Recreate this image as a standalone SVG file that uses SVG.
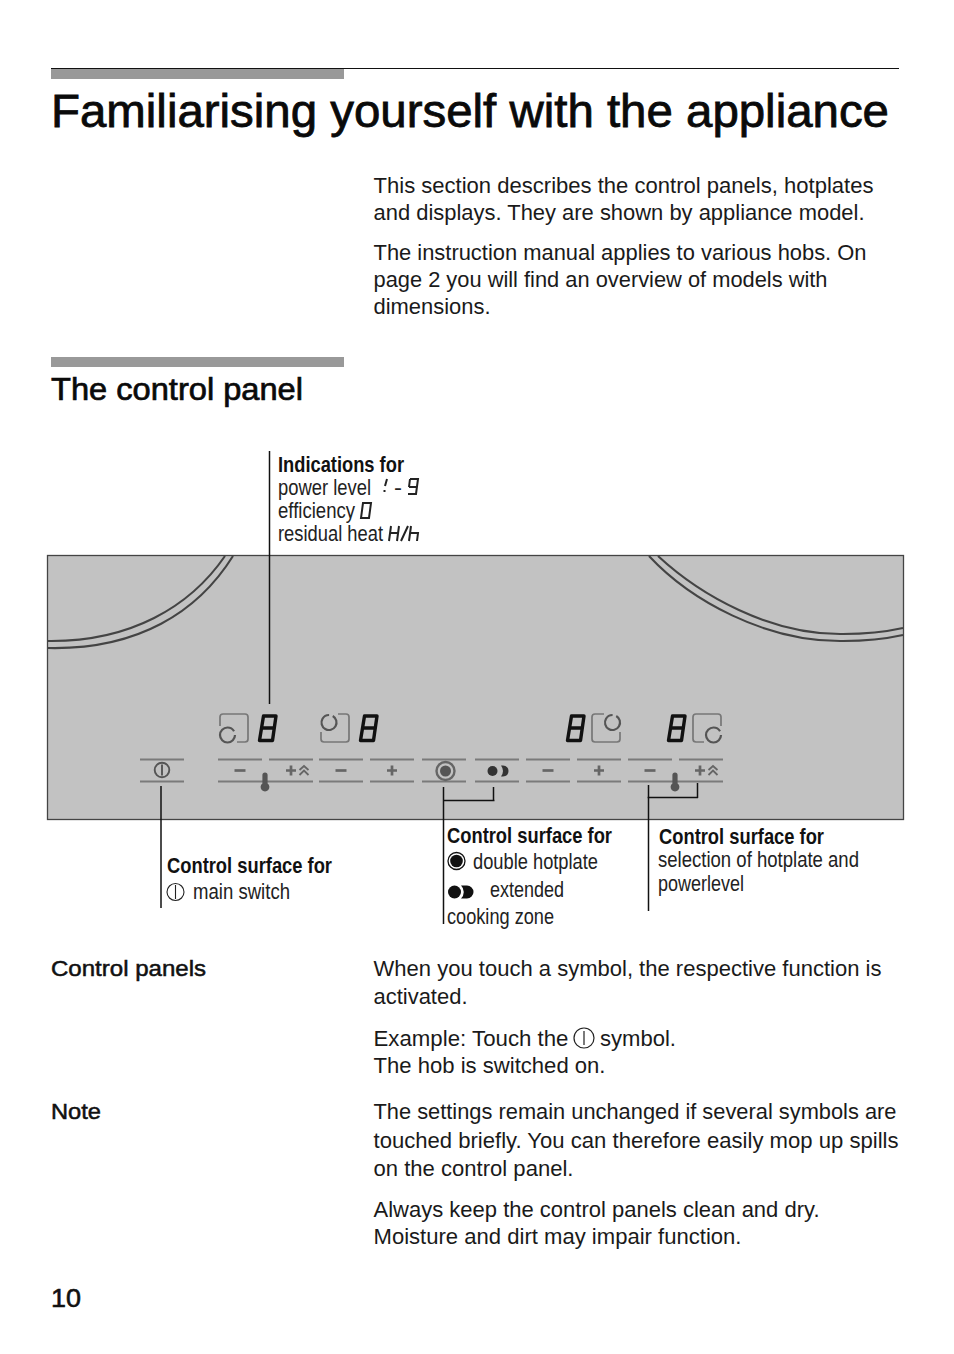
<svg xmlns="http://www.w3.org/2000/svg" width="954" height="1354" viewBox="0 0 954 1354">
<style>
text{font-family:"Liberation Sans",Arial,sans-serif;fill:#1a1a1a}
.b{font-size:22.6px}
.h3{font-size:21.6px;fill:#111;stroke:#111;stroke-width:.5}
.c{font-size:21.5px;fill:#222}
.cb{font-size:21.5px;font-weight:bold;fill:#111}
.ring{fill:none;stroke:#444;stroke-width:2.1}
.seg{fill:none;stroke:#7a7a7a;stroke-width:2}
.sym{fill:none;stroke:#555;stroke-width:1.9}
.dig{fill:none;stroke:#111;stroke-width:3.4;stroke-linejoin:round}
.icon{fill:none;stroke:#777;stroke-width:1.7}
.iconk{fill:none;stroke:#555;stroke-width:2.2;stroke-dasharray:43 4}
.lead{fill:none;stroke:#111;stroke-width:1.5}
.pm{fill:none;stroke:#666;stroke-width:2.7}
.thin{fill:none;stroke:#222;stroke-width:1.1}
.seven{fill:none;stroke:#222;stroke-width:2}
</style>
<defs>
<g id="digit"><path class="dig" d="M5.500 1.500H18L14.500 26H1.500Z M3.500 13.500H16"/></g>
<g id="thermo"><path d="M-2.600 -9A2.600 2.600 0 0 1 2.600 -9V-0.500A4.400 4.400 0 1 1 -2.600 -0.500Z" fill="#555"/></g>
<g id="up"><path d="M-4.500 -1L0 -5L4.500 -1M-4.500 4L0 -0.500L4.500 4" fill="none" stroke="#666" stroke-width="1.800"/></g>
<g id="minus"><path class="pm" d="M-5.500 0H5.500"/></g>
<g id="plus"><path class="pm" d="M-5 0H5M0 -5V5"/></g>
</defs>

<g id="header">
<rect x="51" y="68" width="848" height="1" fill="#111"/>
<rect x="51" y="69" width="293" height="10" fill="#999"/>
<text x="51" y="127" textLength="838" lengthAdjust="spacingAndGlyphs" style="font-size:46.400px;fill:#0a0a0a;stroke:#0a0a0a;stroke-width:.8">Familiarising yourself with the appliance</text>
</g>

<g id="intro">
<text class="b" x="373.500" y="193" textLength="500" lengthAdjust="spacingAndGlyphs">This section describes the control panels, hotplates</text>
<text class="b" x="373.500" y="220" textLength="491" lengthAdjust="spacingAndGlyphs">and displays. They are shown by appliance model.</text>
<text class="b" x="373.500" y="260" textLength="493" lengthAdjust="spacingAndGlyphs">The instruction manual applies to various hobs. On</text>
<text class="b" x="373.500" y="287" textLength="454" lengthAdjust="spacingAndGlyphs">page 2 you will find an overview of models with</text>
<text class="b" x="373.500" y="314" textLength="117" lengthAdjust="spacingAndGlyphs">dimensions.</text>
</g>

<g id="section-title">
<rect x="51" y="357" width="293" height="10" fill="#999"/>
<text x="51" y="400" textLength="252" lengthAdjust="spacingAndGlyphs" style="font-size:31px;fill:#0a0a0a;stroke:#0a0a0a;stroke-width:.7">The control panel</text>
</g>

<g id="panel">
<rect x="47.500" y="555.500" width="856" height="264" fill="#c2c2c2" stroke="#444" stroke-width="1.300"/>
<path class="ring" d="M48 641C130 642 190 607 225 556"/>
<path class="ring" d="M48 648C138 650 198 612 233 556"/>
<path class="ring" d="M658 556C700 595 770 635 843 634C865 634 885 632 903 628"/>
<path class="ring" d="M649 556C690 600 765 642 843 641C865 641 885 639 903 635"/>
</g>

<g id="display-1">
<path class="icon" d="M220 726V717Q220 714 223 714H245Q248 714 248 717V739Q248 742 245 742H237"/>
<circle class="iconk" cx="227.500" cy="735" r="7.500"/>
<use href="#digit" x="258" y="714.500"/>
</g>
<g id="display-2">
<path class="icon" d="M338 714H346Q349 714 349 717V739Q349 742 346 742H324Q321 742 321 739V732"/>
<circle class="iconk" cx="329" cy="722.500" r="7.500" transform="rotate(-60 329 722.500)"/>
<use href="#digit" x="359" y="714.500"/>
</g>
<g id="display-3">
<use href="#digit" x="566" y="714.500"/>
<path class="icon" d="M604 714H595Q592 714 592 717V739Q592 742 595 742H617Q620 742 620 739V732"/>
<circle class="iconk" cx="612.500" cy="722.500" r="7.500" transform="rotate(-60 612.500 722.500)"/>
</g>
<g id="display-4">
<use href="#digit" x="667" y="714.500"/>
<path class="icon" d="M704 742H696Q693 742 693 739V717Q693 714 696 714H718Q721 714 721 717V726"/>
<circle class="iconk" cx="713.500" cy="735" r="7.500"/>
</g>

<g id="touch-keys">
<path class="seg" d="M140 759.500H184M140 781.500H184M218 759.500H262M269 759.500H313M319 759.500H363M370 759.500H414M422 759.500H466M475 759.500H519M526 759.500H570M577 759.500H621M628 759.500H672M679 759.500H723M218 781.500H313M319 781.500H363M370 781.500H414M422 781.500H466M475 781.500H519M526 781.500H570M577 781.500H621M628 781.500H723"/>
<g id="key-main"><circle class="sym" cx="162" cy="770" r="7.300"/><path class="sym" d="M162 764.500V775.500"/></g>
<use href="#minus" x="240" y="770.500"/>
<use href="#thermo" x="265" y="784"/>
<use href="#plus" x="291" y="770.500"/>
<use href="#up" x="304" y="771"/>
<use href="#minus" x="341" y="770.500"/>
<use href="#plus" x="392" y="770.500"/>
<g id="key-double"><circle cx="445.500" cy="771" r="9" fill="none" stroke="#666" stroke-width="2.400"/><circle cx="445.500" cy="771" r="5.500" fill="#555"/></g>
<g id="key-extended"><circle cx="492.500" cy="771" r="5" fill="#333"/><path d="M501 765.500H503Q508.500 766 508.500 771Q508.500 776 503 776.500H501Q505 771 501 765.500Z" fill="#333"/></g>
<use href="#minus" x="548" y="770.500"/>
<use href="#plus" x="599" y="770.500"/>
<use href="#minus" x="650" y="770.500"/>
<use href="#thermo" x="675" y="784"/>
<use href="#plus" x="700" y="770.500"/>
<use href="#up" x="713" y="771"/>
</g>

<g id="connectors">
<path class="lead" d="M269.500 451V704"/>
<path class="lead" d="M161 786V908"/>
<path class="lead" d="M443.500 787V924M443.500 800.500H494.500M493.500 787V801"/>
<path class="lead" d="M648.500 785V911M647.500 797.500H698M697.500 783V798"/>
</g>

<g id="label-indications">
<text class="cb" x="278" y="472" textLength="126" lengthAdjust="spacingAndGlyphs">Indications for</text>
<text class="c" x="278" y="495" textLength="93" lengthAdjust="spacingAndGlyphs">power level</text>
<path class="seven" d="M387 479L385 486M384.500 490V492"/>
<text class="c" x="394" y="495" textLength="8" lengthAdjust="spacingAndGlyphs">-</text>
<path class="seven" d="M410 479H418L416 494H408M409 487H417M410 479L409 487"/>
<text class="c" x="278" y="518" textLength="77" lengthAdjust="spacingAndGlyphs">efficiency</text>
<path class="seven" d="M363 503H371L369 518H361Z"/>
<text class="c" x="278" y="541" textLength="105" lengthAdjust="spacingAndGlyphs">residual heat</text>
<path class="seven" d="M391 526L389 541M399 526L397 541M390 533H398M408 526L401 541M411 526L409 541M410 533H418L417 541"/>
</g>

<g id="label-main-switch">
<text class="cb" x="167" y="873" textLength="165" lengthAdjust="spacingAndGlyphs">Control surface for</text>
<g id="inline-main-1"><circle cx="175.500" cy="892" r="8.500" class="thin"/><path class="thin" d="M175.500 885V899"/></g>
<text class="c" x="193" y="899" textLength="97" lengthAdjust="spacingAndGlyphs">main switch</text>
</g>

<g id="label-double">
<text class="cb" x="447" y="843" textLength="165" lengthAdjust="spacingAndGlyphs">Control surface for</text>
<circle cx="456.500" cy="861" r="8.500" fill="none" stroke="#111" stroke-width="1.300"/><circle cx="456.500" cy="861" r="6.300" fill="#111"/>
<text class="c" x="473" y="869" textLength="125" lengthAdjust="spacingAndGlyphs">double hotplate</text>
<circle cx="454.500" cy="892" r="6.500" fill="#111"/><path d="M461 885.500H467A6.500 6.500 0 0 1 467 898.500H461A9 9 0 0 0 461 885.500Z" fill="#111"/>
<text class="c" x="490" y="897" textLength="74" lengthAdjust="spacingAndGlyphs">extended</text>
<text class="c" x="447" y="924" textLength="107" lengthAdjust="spacingAndGlyphs">cooking zone</text>
</g>

<g id="label-selection">
<text class="cb" x="659" y="844" textLength="165" lengthAdjust="spacingAndGlyphs">Control surface for</text>
<text class="c" x="658" y="867" textLength="201" lengthAdjust="spacingAndGlyphs">selection of hotplate and</text>
<text class="c" x="658" y="891" textLength="86" lengthAdjust="spacingAndGlyphs">powerlevel</text>
</g>

<g id="body">
<text class="h3" x="51" y="976" textLength="155" lengthAdjust="spacingAndGlyphs">Control panels</text>
<text class="b" x="373.500" y="976" textLength="508" lengthAdjust="spacingAndGlyphs">When you touch a symbol, the respective function is</text>
<text class="b" x="373.500" y="1004" textLength="94" lengthAdjust="spacingAndGlyphs">activated.</text>
<text class="b" x="373.500" y="1046" textLength="195" lengthAdjust="spacingAndGlyphs">Example: Touch the</text>
<g id="inline-main"><circle cx="584" cy="1038" r="10" fill="none" stroke="#222" stroke-width="1.200"/><path d="M584 1031V1045" stroke="#222" stroke-width="1.200"/></g>
<text class="b" x="600" y="1046" textLength="76" lengthAdjust="spacingAndGlyphs">symbol.</text>
<text class="b" x="373.500" y="1073" textLength="232" lengthAdjust="spacingAndGlyphs">The hob is switched on.</text>
<text class="h3" x="51" y="1119" textLength="50" lengthAdjust="spacingAndGlyphs">Note</text>
<text class="b" x="373.500" y="1119" textLength="523" lengthAdjust="spacingAndGlyphs">The settings remain unchanged if several symbols are</text>
<text class="b" x="373.500" y="1148" textLength="525" lengthAdjust="spacingAndGlyphs">touched briefly. You can therefore easily mop up spills</text>
<text class="b" x="373.500" y="1176" textLength="200" lengthAdjust="spacingAndGlyphs">on the control panel.</text>
<text class="b" x="373.500" y="1217" textLength="446" lengthAdjust="spacingAndGlyphs">Always keep the control panels clean and dry.</text>
<text class="b" x="373.500" y="1244" textLength="368" lengthAdjust="spacingAndGlyphs">Moisture and dirt may impair function.</text>
</g>

<g id="page-number">
<text x="51" y="1307" textLength="30" lengthAdjust="spacingAndGlyphs" style="font-size:26px;fill:#111;stroke:#111;stroke-width:.6">10</text>
</g>
</svg>
